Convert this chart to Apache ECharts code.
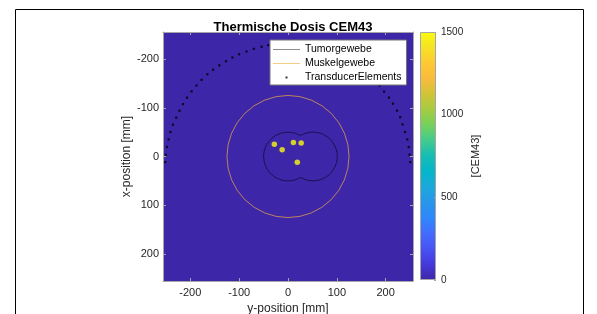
<!DOCTYPE html>
<html>
<head>
<meta charset="utf-8">
<script src="https://cdn.jsdelivr.net/npm/echarts@6/dist/echarts.min.js"></script>
<style>html,body{margin:0;padding:0;background:#fff}#c{width:597px;height:314px}</style>
</head>
<body>
<div id="c"></div>
<script>
// ---- data ----
const axisTicks = [-200, -100, 0, 100, 200];
const axisRange = [-256, 256];
const cbTicks = [0, 500, 1000, 1500];
const cbRange = [0, 1500];

// dose field background (value 0 everywhere except hot spots)
const fieldH = [-256, 256];
const fieldV = [-256, 256];
const fieldValue = 0;

// hot spots (y-position horizontal, x-position vertical)
const hotH = [-28, -12, 11, 27, 19];
const hotV = [-25, -14, -29, -28, 12];
const hotValue = [1500, 1500, 1500, 1500, 1500];

// tumour outline = union of two circles [centerH, centerV, radius]
const tumorCircles = [[0, 0, 50], [51, 0, 50]];
// muscle boundary circle
const muscleCircles = [[0, 0, 125]];

// transducer elements
const transH = [-251.4, -250.0, -247.9, -244.4, -240.7, -235.6, -229.0, -222.2, -215.0, -206.8,
  -197.5, -187.4, -177.0, -165.2, -153.3, -140.7, -127.0, -113.8, -100.2, -85.0, -70.0, -54.1, -40.5,
  -27, -13, 0, 13, 27, 40.5, 54.1, 70.0, 85.0, 100.2, 113.8, 127.0, 140.7, 153.3, 165.2, 177.0,
  187.7, 196.9, 206.8, 215.0, 223.3, 229.8, 234.6, 239.7, 244.2, 247.3, 249.0, 250.4];
const transV = [11.5, -3.7, -19.6, -35.1, -50.3, -65.4, -80.0, -94.2, -107.8, -121.0,
  -134.0, -146.0, -157.7, -169.1, -178.4, -187.4, -195.9, -203.5, -210.3, -215.9, -221.4, -225.6, -228.9,
  -231, -232.5, -233, -232.5, -231, -228.9, -225.6, -221.4, -215.9, -210.3, -203.5, -195.9, -187.4, -178.4, -169.1, -157.7,
  -145.8, -133.4, -121.2, -108.7, -94.4, -80.8, -66.0, -50.5, -35.1, -19.2, -3.7, 11.5];

// parula colormap
const parula = ['#3e26a8', '#4539da', '#4852f4', '#436cfd', '#2e87fc', '#2796eb', '#1ba8db', '#05b6c9',
  '#15bdb4', '#42cb8c', '#75d05c', '#a5cb41', '#d1c437', '#f9bb3d', '#fec933', '#f5e225', '#f9fb0e'];

// ---- chart ----
const FONT = "'Liberation Sans', Arial, Helvetica, sans-serif";
const TXT = '#262626';
const EDGE = '#a6a6a6';
const chart = echarts.init(document.getElementById('c'), null, {renderer: 'canvas'});

const fieldData = [[fieldH[0], fieldV[0], fieldValue, fieldH[1], fieldV[1]]];
const hotData = hotH.map((h, i) => [h, hotV[i], hotValue[i]]);
const transData = transH.map((h, i) => [h, transV[i]]);
const cbStops = parula.map((c, i) => ({offset: i / (parula.length - 1), color: c}));

const lineIcon = 'path://M0,0M27,12M0,6H27V7H0Z';
const dotIcon = 'path://M0,0M27,12M12.5,5.5H14.5V7.5H12.5Z';

const tickStyle = {color: EDGE, width: 1};
const option = {
  animation: false,
  backgroundColor: '#fff',
  textStyle: {fontFamily: FONT},
  title: {
    text: 'Thermische Dosis CEM43', left: 288, top: 16, textAlign: 'center',
    textStyle: {fontSize: 13, fontWeight: 'bold', color: '#000', fontFamily: FONT}
  },
  graphic: [{
    type: 'rect', silent: true, z: 100,
    shape: {x: 15.5, y: 9.5, width: 568, height: 330},
    style: {fill: 'none', stroke: '#000', lineWidth: 1}
  }],
  grid: [
    {left: 163, top: 32, width: 250, height: 249, containLabel: false, outerBoundsMode: 'none'},
    {left: 420, top: 32, width: 16, height: 248, containLabel: false, outerBoundsMode: 'none'}
  ],
  legend: {
    orient: 'vertical', left: 270, top: 40, itemWidth: 27, itemHeight: 12, itemGap: 2,
    padding: [3, 5, 2, 3], backgroundColor: '#fff', borderColor: '#777', borderWidth: 1,
    selectedMode: false, z: 50,
    textStyle: {fontSize: 10.5, color: '#000', fontFamily: FONT},
    data: [
      {name: 'Tumorgewebe', icon: lineIcon, itemStyle: {color: '#8c8c8c'}},
      {name: 'Muskelgewebe', icon: lineIcon, itemStyle: {color: '#f3cd88'}},
      {name: 'TransducerElements', icon: dotIcon, itemStyle: {color: '#000'}}
    ]
  },
  visualMap: {
    type: 'continuous', show: false, min: cbRange[0], max: cbRange[1], dimension: 2,
    seriesIndex: [0, 1], inRange: {color: parula}
  },
  xAxis: [
    {
      gridIndex: 0, type: 'value', min: axisRange[0], max: axisRange[1], position: 'bottom',
      axisLine: {show: true, onZero: false, lineStyle: tickStyle},
      axisTick: {show: true, inside: true, length: 3, customValues: axisTicks, lineStyle: tickStyle},
      axisLabel: {customValues: axisTicks, margin: 6, fontSize: 11, color: TXT, fontFamily: FONT},
      splitLine: {show: false},
      name: 'y-position [mm]', nameLocation: 'middle', nameGap: 22,
      nameTextStyle: {fontSize: 12, color: TXT, fontFamily: FONT}, z: 10
    },
    {
      gridIndex: 0, type: 'value', min: axisRange[0], max: axisRange[1], position: 'top',
      axisLine: {show: true, onZero: false, lineStyle: tickStyle},
      axisTick: {show: true, inside: true, length: 3, customValues: axisTicks, lineStyle: tickStyle},
      axisLabel: {show: false}, splitLine: {show: false}, z: 10
    },
    {gridIndex: 1, type: 'category', data: ['cb'], show: false, boundaryGap: true}
  ],
  yAxis: [
    {
      gridIndex: 0, type: 'value', min: axisRange[0], max: axisRange[1], inverse: true, position: 'left',
      axisLine: {show: true, onZero: false, lineStyle: tickStyle},
      axisTick: {show: true, inside: true, length: 3, customValues: axisTicks, lineStyle: tickStyle},
      axisLabel: {customValues: axisTicks, margin: 4, fontSize: 11, color: TXT, fontFamily: FONT},
      splitLine: {show: false},
      name: 'x-position [mm]', nameLocation: 'middle', nameGap: 28,
      nameTextStyle: {fontSize: 12, color: TXT, fontFamily: FONT}, z: 10
    },
    {
      gridIndex: 0, type: 'value', min: axisRange[0], max: axisRange[1], inverse: true, position: 'right',
      axisLine: {show: true, onZero: false, lineStyle: tickStyle},
      axisTick: {show: true, inside: true, length: 3, customValues: axisTicks, lineStyle: tickStyle},
      axisLabel: {show: false}, splitLine: {show: false}, z: 10
    },
    {
      gridIndex: 1, type: 'value', min: cbRange[0], max: cbRange[1], interval: 500, position: 'right',
      axisLine: {show: false},
      axisTick: {show: true, inside: true, length: 2, customValues: cbTicks, lineStyle: tickStyle},
      axisLabel: {customValues: cbTicks, margin: 5, fontSize: 10, color: TXT, fontFamily: FONT,
        formatter: function (v) { return String(v); }},
      splitLine: {show: false},
      name: '[CEM43]', nameLocation: 'middle', nameGap: 34,
      nameTextStyle: {fontSize: 11, color: TXT, fontFamily: FONT}, z: 10
    }
  ],
  series: [
    {
      name: 'Dosis', type: 'custom', xAxisIndex: 0, yAxisIndex: 0, z: 1, silent: true,
      encode: {x: [0, 3], y: [1, 4]},
      data: fieldData,
      renderItem: function (params, api) {
        const p0 = api.coord([api.value(0), api.value(1)]);
        const p1 = api.coord([api.value(3), api.value(4)]);
        return {
          type: 'rect',
          shape: {x: Math.min(p0[0], p1[0]), y: Math.min(p0[1], p1[1]),
            width: Math.abs(p1[0] - p0[0]), height: Math.abs(p1[1] - p0[1])},
          style: {fill: api.visual('color')}
        };
      }
    },
    {
      name: 'Hotspots', type: 'scatter', xAxisIndex: 0, yAxisIndex: 0, z: 2,
      symbol: 'circle', symbolSize: 5.5, data: hotData, silent: true
    },
    {
      name: 'Tumorgewebe', type: 'custom', xAxisIndex: 0, yAxisIndex: 0, z: 3, silent: true,
      data: tumorCircles,
      renderItem: function (params, api) {
        const c = api.coord([api.value(0), api.value(1)]);
        const r = api.size([api.value(2), 0])[0];
        const other = tumorCircles[1 - params.dataIndex];
        const o = api.coord([other[0], other[1]]);
        const dx = o[0] - c[0], dy = o[1] - c[1];
        const d = Math.sqrt(dx * dx + dy * dy);
        const th = Math.atan2(dy, dx);
        const a = Math.acos(Math.min(1, d / (2 * r)));
        return {
          type: 'arc',
          shape: {cx: c[0], cy: c[1], r: r, startAngle: th + a, endAngle: th + 2 * Math.PI - a, clockwise: true},
          style: {fill: 'none', stroke: '#120c3c', lineWidth: 0.8}
        };
      }
    },
    {
      name: 'Muskelgewebe', type: 'custom', xAxisIndex: 0, yAxisIndex: 0, z: 3, silent: true,
      data: muscleCircles,
      renderItem: function (params, api) {
        const c = api.coord([api.value(0), api.value(1)]);
        const r = api.size([api.value(2), 0])[0];
        return {
          type: 'circle',
          shape: {cx: c[0], cy: c[1], r: r},
          style: {fill: 'none', stroke: '#e3a24a', lineWidth: 0.75}
        };
      }
    },
    {
      name: 'TransducerElements', type: 'scatter', xAxisIndex: 0, yAxisIndex: 0, z: 4,
      symbol: 'rect', symbolSize: 2.2, itemStyle: {color: '#000'}, data: transData, silent: true
    },
    {
      name: 'colorbar', type: 'bar', xAxisIndex: 2, yAxisIndex: 2, data: [cbRange[1]],
      barWidth: '100%', silent: true,
      itemStyle: {
        color: new echarts.graphic.LinearGradient(0, 1, 0, 0, cbStops),
        borderColor: EDGE, borderWidth: 1
      }
    }
  ]
};
chart.setOption(option);
</script>
</body>
</html>
